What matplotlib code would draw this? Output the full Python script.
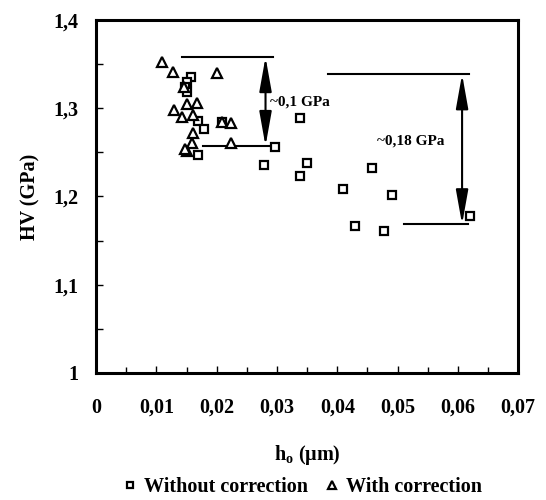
import matplotlib
matplotlib.use("Agg")
import matplotlib.pyplot as plt
from matplotlib.ticker import MultipleLocator, FuncFormatter

plt.rcParams['font.family'] = ['Liberation Serif', 'DejaVu Serif']
plt.rcParams['font.weight'] = 'bold'

# Without correction (squares)
h_without = [0.0158, 0.0151, 0.0148, 0.0151, 0.0169, 0.0179, 0.0169, 0.0208,
             0.0279, 0.0297, 0.0339, 0.0349, 0.0339, 0.0410, 0.0458, 0.0490,
             0.0429, 0.0478, 0.0620]
hv_without = [1.335, 1.330, 1.324, 1.318, 1.286, 1.2765, 1.247, 1.2844,
              1.2357, 1.256, 1.289, 1.238, 1.2232, 1.2085, 1.232, 1.2017,
              1.1666, 1.161, 1.178]

# With correction (triangles)
h_with = [0.0110, 0.0128, 0.0201, 0.0145, 0.0130, 0.0151, 0.0168, 0.0143,
          0.0161, 0.0161, 0.0159, 0.0151, 0.0148, 0.0209, 0.0223, 0.0223]
hv_with = [1.3524, 1.341, 1.340, 1.324, 1.298, 1.305, 1.306, 1.290,
           1.292, 1.272, 1.261, 1.2516, 1.2540, 1.2844, 1.283, 1.2606]

fig = plt.figure(figsize=(5.46, 5.0), dpi=100)
ax = fig.add_axes([0.176, 0.254, 0.773, 0.706])

ax.plot(h_without, hv_without, linestyle='none', marker='s', ms=6.2,
        mfc='white', mec='black', mew=1.6, label='Without correction', zorder=3)
ax.plot(h_with, hv_with, linestyle='none', marker='^', ms=7.5,
        mfc='white', mec='black', mew=1.6, label='With correction', zorder=3)

ax.set_xlim(0, 0.07)
ax.set_ylim(1.0, 1.4)

fmt = FuncFormatter(lambda v, p: ('%g' % round(v, 4)).replace('.', ','))
ax.xaxis.set_major_locator(MultipleLocator(0.01))
ax.xaxis.set_minor_locator(MultipleLocator(0.005))
ax.yaxis.set_major_locator(MultipleLocator(0.1))
ax.yaxis.set_minor_locator(MultipleLocator(0.05))
ax.xaxis.set_major_formatter(fmt)
ax.yaxis.set_major_formatter(fmt)
ax.tick_params(axis='both', which='both', direction='in', top=False, right=False,
               width=1.0, labelsize=14.5)
ax.tick_params(axis='x', which='major', length=5, pad=18)
ax.tick_params(axis='x', which='minor', length=4)
ax.tick_params(axis='y', which='major', length=5, pad=13)
ax.tick_params(axis='y', which='minor', length=5)
for lbl in ax.get_xticklabels() + ax.get_yticklabels():
    lbl.set_fontweight('bold')
for s in ax.spines.values():
    s.set_linewidth(2.2)

ax.set_xlabel(r'h$_\mathregular{o}$ ($\mathregular{\mu}$m)', fontsize=14.5, fontweight='bold', labelpad=18)
ax.set_ylabel('HV (GPa)', fontsize=14.5, fontweight='bold', labelpad=9)

aprops = dict(arrowstyle='<|-|>,head_length=1.4,head_width=0.25',
              color='black', lw=1.5, shrinkA=0, shrinkB=0, mutation_scale=15)

# Annotation 1 (~0,1 GPa)
ax.plot([0.0143, 0.0293], [1.358, 1.358], color='black', lw=1.5)
ax.plot([0.0178, 0.0292], [1.2572, 1.2572], color='black', lw=1.5)
ax.annotate('', xy=(0.0281, 1.2572), xytext=(0.0281, 1.358), arrowprops=aprops)
ax.text(0.0288, 1.307, '~0,1 GPa', fontsize=11, fontweight='bold', va='center', ha='left')

# Annotation 2 (~0,18 GPa)
ax.plot([0.0384, 0.0618], [1.3385, 1.3385], color='black', lw=1.5)
ax.plot([0.0510, 0.0616], [1.1685, 1.1685], color='black', lw=1.5)
ax.annotate('', xy=(0.0607, 1.1685), xytext=(0.0607, 1.3385), arrowprops=aprops)
ax.text(0.0466, 1.263, '~0,18 GPa', fontsize=11, fontweight='bold', va='center', ha='left')

handles, labels = ax.get_legend_handles_labels()
leg = fig.legend(handles, labels, loc='center', bbox_to_anchor=(0.555, 0.025), ncol=2,
                 frameon=False, handlelength=0.6, handletextpad=0.4,
                 columnspacing=0.9, markerscale=0.7, prop={'weight': 'bold', 'size': 14.5})

fig.savefig('out.png', dpi=100)
